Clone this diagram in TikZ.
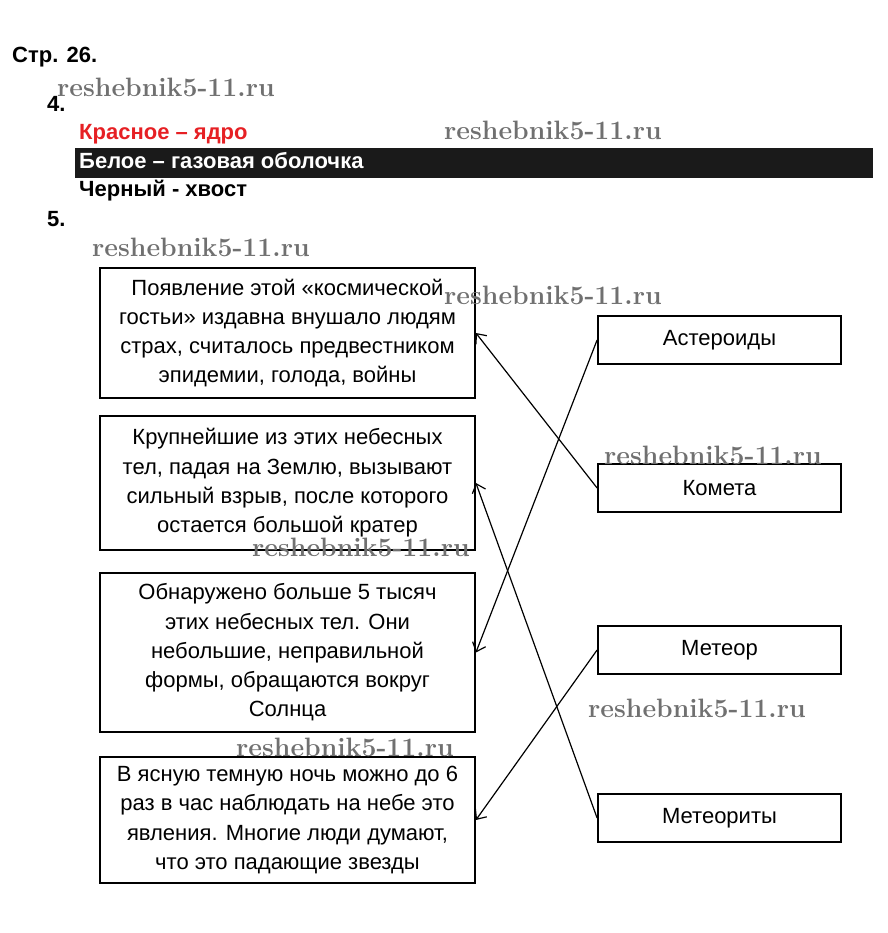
\documentclass[tikz,border=0pt]{standalone}
\usepackage{fontspec}
\newfontfamily\arialf{Liberation Sans}
\newfontfamily\wmf{Latin Modern Roman}
\usetikzlibrary{arrows.meta}
\definecolor{wmgray}{RGB}{112,112,112}
\definecolor{hdred}{RGB}{230,32,36}
\definecolor{barblack}{RGB}{26,26,26}
\begin{document}
\begin{tikzpicture}[x=1pt,y=-1pt,
  hd/.style={font=\arialf\bfseries\fontsize{22}{26}\selectfont, inner sep=0pt, anchor=base west},
  lbox/.style={draw, line width=1.8pt, minimum width=375pt, align=center,
    font=\arialf\fontsize{22}{29.3}\selectfont, inner sep=0pt},
  rbox/.style={draw, line width=1.8pt, minimum width=243pt, minimum height=48pt,
    font=\arialf\fontsize{22}{26}\selectfont, inner sep=0pt},
  conn/.style={line width=1.2pt, -{Straight Barb[length=8pt,width=14pt]}},
  wm/.style={font=\wmf\bfseries\fontsize{26.6}{30}\selectfont, text=wmgray, inner sep=0pt, anchor=base west}]
\useasboundingbox (0,0) rectangle (887,933);
% header
\node[hd] (str) at (12,63) {Стр. 26.};
\node[hd] (n4) at (47,112) {4.};
\node[hd, text=hdred] (red) at (79,140) {Красное – ядро};
\fill[barblack] (75,148) rectangle (873,178);
\node[hd, text=white] (white) at (79,169) {Белое – газовая оболочка};
\node[hd] (black) at (79,197) {Черный - хвост};
\node[hd] (n5) at (47,226) {5.};
% left boxes
\node[lbox, minimum height=130pt] (b1) at (287.5,333) {Появление этой «космической\\гостьи» издавна внушало людям\\страх, считалось предвестником\\эпидемии, голода, войны};
\node[lbox, minimum height=134pt] (b2) at (287.5,483) {Крупнейшие из этих небесных\\тел, падая на Землю, вызывают\\сильный взрыв, после которого\\остается большой кратер};
\node[lbox, minimum height=159pt] (b3) at (287.5,652.5) {Обнаружено больше 5 тысяч\\этих небесных тел. Они\\небольшие, неправильной\\формы, обращаются вокруг\\Солнца};
\node[lbox, minimum height=126pt] (b4) at (287.5,820) {В ясную темную ночь можно до 6\\раз в час наблюдать на небе это\\явления. Многие люди думают,\\что это падающие звезды};
% right boxes
\node[rbox] (ast) at (719.5,340) {Астероиды};
\node[rbox] (kom) at (719.5,488) {Комета};
\node[rbox] (met) at (719.5,650) {Метеор};
\node[rbox] (mts) at (719.5,818) {Метеориты};
% connectors
\draw[conn] (kom.west) -- (b1.east);
\draw[conn] (ast.west) -- (b3.east);
\draw[conn] (met.west) -- (b4.east);
\draw[conn] (mts.west) -- (b2.east);
% watermarks
\node[wm] (w1) at (57,97) {reshebnik5-11.ru};
\node[wm] (w2) at (444,140) {reshebnik5-11.ru};
\node[wm] (w3) at (92,256) {reshebnik5-11.ru};
\node[wm] (w4) at (444,304) {reshebnik5-11.ru};
\node[wm] (w5) at (604,464) {reshebnik5-11.ru};
\node[wm] (w6) at (252,556) {reshebnik5-11.ru};
\node[wm] (w7) at (588,717) {reshebnik5-11.ru};
\node[wm] (w8) at (236,756) {reshebnik5-11.ru};
\end{tikzpicture}
\end{document}
